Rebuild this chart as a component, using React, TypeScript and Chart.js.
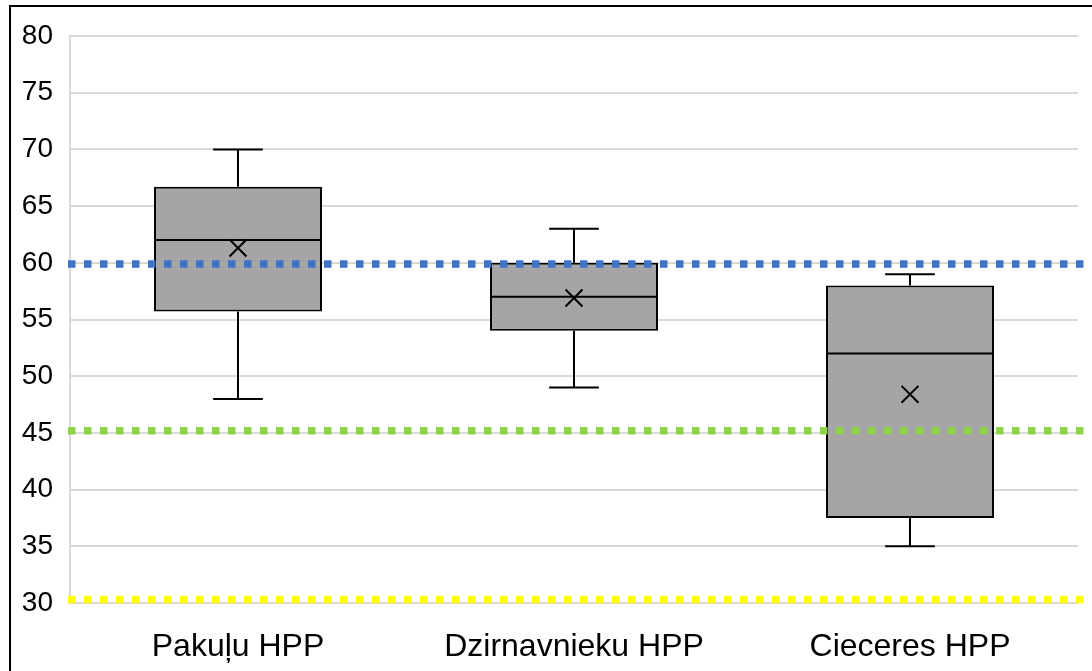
import React, { useEffect, useRef } from 'react';
import { Chart, registerables } from 'chart.js';

Chart.register(...registerables);

const categories = ['Pakuļu HPP', 'Dzirnavnieku HPP', 'Cieceres HPP'];
const whiskerMin = [48, 49, 35];
const q1 = [55.7, 54, 37.5];
const median = [62, 57, 52];
const q3 = [66.7, 60, 58];
const whiskerMax = [70, 63, 59];
const mean = [61.3, 56.9, 48.4];

const refValues = [59.9, 45.2, 30.3];
const refColors = ['#4472C4', '#92D050', '#FFFF00'];

const yMin = 30;
const yMax = 80;
const yStep = 5;

export default function App() {
  const ref = useRef<HTMLCanvasElement>(null);

  useEffect(() => {
    if (!ref.current) return;

    const boxPlugin = {
      id: 'boxExtras',
      afterDatasetsDraw(chart: any) {
        const { ctx, scales, chartArea } = chart;
        const x = scales.x;
        const y = scales.y;
        const meta = chart.getDatasetMeta(0);
        ctx.save();
        ctx.strokeStyle = '#000';
        ctx.lineWidth = 2;
        ctx.lineCap = 'butt';
        categories.forEach((_, i) => {
          const bar = meta.data[i];
          const cx = x.getPixelForValue(i);
          const half = bar.width / 2;
          const capHalf = bar.width * 0.148;
          const yMed = y.getPixelForValue(median[i]);
          const yQ1 = y.getPixelForValue(q1[i]);
          const yQ3 = y.getPixelForValue(q3[i]);
          const yLo = y.getPixelForValue(whiskerMin[i]);
          const yHi = y.getPixelForValue(whiskerMax[i]);
          ctx.beginPath();
          ctx.moveTo(cx - half, yMed);
          ctx.lineTo(cx + half, yMed);
          ctx.moveTo(cx, yQ3);
          ctx.lineTo(cx, yHi);
          ctx.moveTo(cx - capHalf, yHi);
          ctx.lineTo(cx + capHalf, yHi);
          ctx.moveTo(cx, yQ1);
          ctx.lineTo(cx, yLo);
          ctx.moveTo(cx - capHalf, yLo);
          ctx.lineTo(cx + capHalf, yLo);
          ctx.stroke();
        });
        ctx.lineWidth = 7.5;
        ctx.setLineDash([7.5, 8.5]);
        refValues.forEach((v, i) => {
          const py = y.getPixelForValue(v);
          ctx.strokeStyle = refColors[i];
          ctx.beginPath();
          ctx.moveTo(chartArea.left - 2, py);
          ctx.lineTo(chartArea.right + 6, py);
          ctx.stroke();
        });
        ctx.restore();
      },
    };

    const chart = new Chart(ref.current, {
      type: 'bar',
      data: {
        labels: categories,
        datasets: [
          {
            type: 'bar',
            data: categories.map((_, i) => [q1[i], q3[i]]) as any,
            backgroundColor: '#A5A5A5',
            borderColor: '#000',
            borderWidth: 2,
            borderSkipped: false,
            categoryPercentage: 1,
            barPercentage: 0.5,
            order: 2,
          },
          {
            type: 'line',
            data: mean,
            showLine: false,
            pointStyle: 'crossRot',
            pointRadius: 12,
            pointHoverRadius: 12,
            pointBorderColor: '#000',
            pointBackgroundColor: '#000',
            pointBorderWidth: 2,
            order: 1,
          } as any,
        ],
      },
      options: {
        responsive: false,
        animation: false,
        devicePixelRatio: 1,
        layout: { padding: { top: 36, right: 10, left: 0, bottom: 0 } },
        plugins: {
          legend: { display: false },
          tooltip: { enabled: false },
        },
        scales: {
          x: {
            type: 'category',
            grid: { display: false },
            border: { display: false },
            ticks: {
              color: '#000',
              padding: 17,
              font: { family: "'Liberation Sans', Arial, sans-serif", size: 32 },
              maxRotation: 0,
            },
            afterFit: (s: any) => {
              s.height = 68;
            },
          },
          y: {
            min: yMin,
            max: yMax,
            grid: { color: '#D9D9D9', lineWidth: 2, drawTicks: false },
            border: { display: true, color: '#D9D9D9', width: 2 },
            ticks: {
              stepSize: yStep,
              color: '#000',
              padding: 17,
              font: { family: "'Liberation Sans', Arial, sans-serif", size: 28 },
            },
            afterFit: (s: any) => {
              s.width = 70;
            },
          },
        },
      },
      plugins: [boxPlugin],
    });

    return () => chart.destroy();
  }, []);

  return (
    <div
      style={{
        position: 'fixed',
        left: 0,
        top: 0,
        width: 1092,
        height: 671,
        overflow: 'hidden',
        background: '#fff',
      }}
    >
      <canvas ref={ref} width={1092} height={671} style={{ display: 'block', width: 1092, height: 671 }} />
      <div
        style={{
          position: 'absolute',
          left: 9,
          top: 5,
          width: 1200,
          height: 800,
          borderLeft: '2px solid #000',
          borderTop: '2px solid #000',
          pointerEvents: 'none',
        }}
      />
    </div>
  );
}
